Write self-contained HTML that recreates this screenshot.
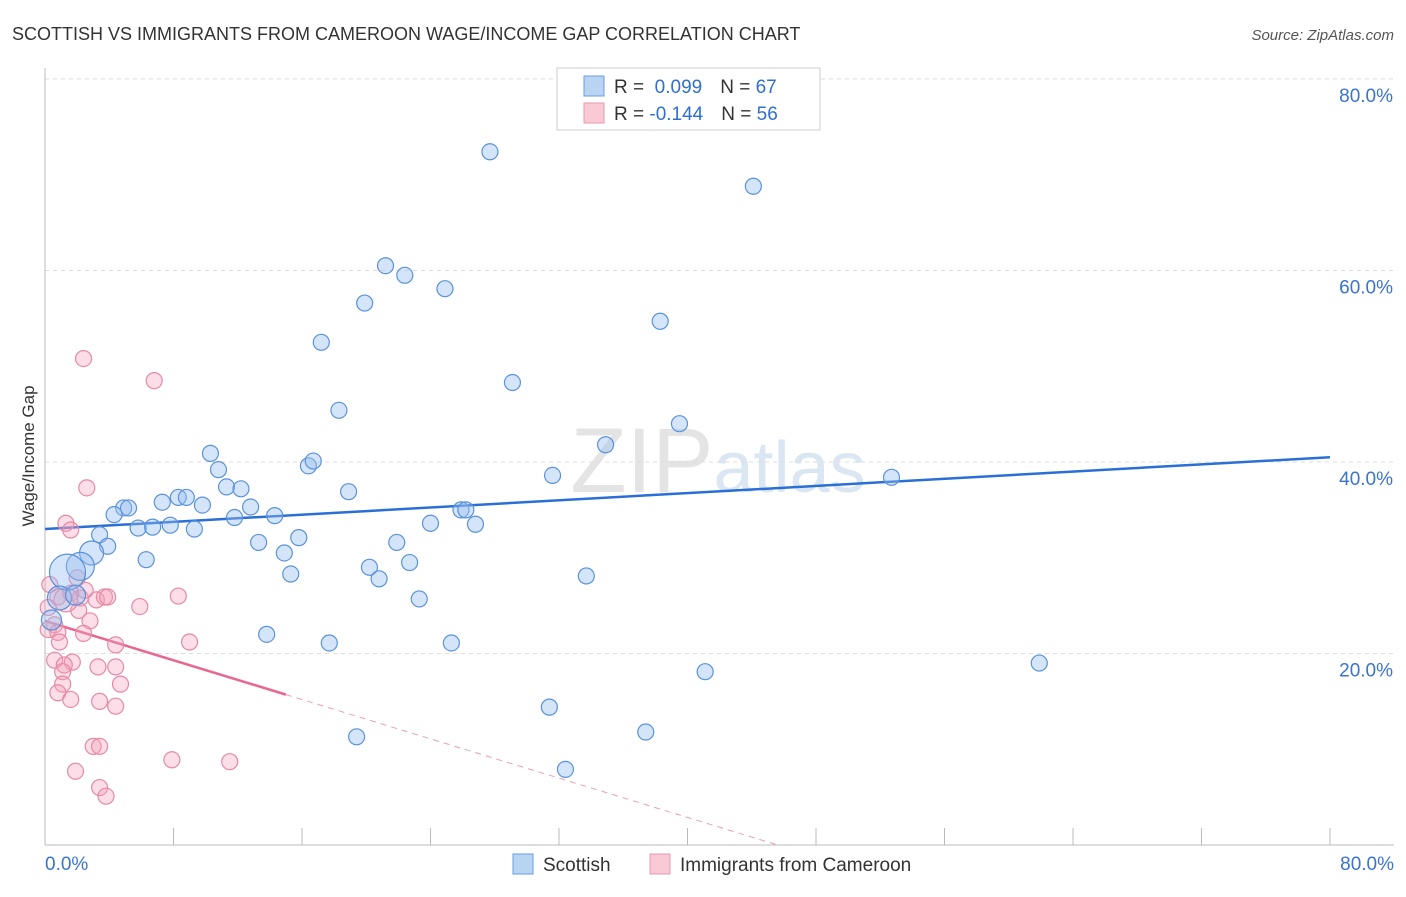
<!DOCTYPE html>
<html><head><meta charset="utf-8"><style>
body{margin:0;background:#fff;font-family:"Liberation Sans",sans-serif;}
svg text{font-family:"Liberation Sans",sans-serif;}
</style></head><body>
<svg id="chart" width="1406" height="892" viewBox="0 0 1406 892" xmlns="http://www.w3.org/2000/svg">
<text x="12" y="40" font-size="18" fill="#333">SCOTTISH VS IMMIGRANTS FROM CAMEROON WAGE/INCOME GAP CORRELATION CHART</text>
<text x="1394" y="40" font-size="15" fill="#555" text-anchor="end" font-style="italic">Source: ZipAtlas.com</text>
<text x="718" y="492" font-size="92" fill="#e4e4e4" text-anchor="middle" font-family="Liberation Serif">ZIP<tspan fill="#dbe6f3" font-family="Liberation Sans" font-size="72">atlas</tspan></text>
<g id="grid"></g>
<g id="axes"></g>
<g id="trend"></g>
<g id="pts"></g>
<text transform="translate(34,456) rotate(-90)" font-size="17" fill="#333" text-anchor="middle">Wage/Income Gap</text>
<g>
<rect x="557" y="68" width="263" height="62" fill="#fff" stroke="#ccc"/>
<rect x="584" y="76" width="20" height="20" fill="#b9d3f3" stroke="#6a9ee0"/>
<rect x="584" y="103" width="20" height="20" fill="#f9c9d6" stroke="#e79ab0"/>
<text x="614" y="93" font-size="19" fill="#333">R = <tspan fill="#2f6fd1">&#160;0.099</tspan><tspan dx="18">N = </tspan><tspan fill="#2f6fd1">67</tspan></text>
<text x="614" y="120" font-size="19" fill="#333">R = <tspan fill="#2f6fd1">-0.144</tspan><tspan dx="18">N = </tspan><tspan fill="#2f6fd1">56</tspan></text>
</g>
<g>
<rect x="513" y="854" width="20" height="20" fill="#b9d3f3" stroke="#6a9ee0"/>
<text x="543" y="871" font-size="19" fill="#333">Scottish</text>
<rect x="650" y="854" width="20" height="20" fill="#f9c9d6" stroke="#e79ab0"/>
<text x="680" y="871" font-size="19" fill="#333">Immigrants from Cameroon</text>
</g>
</svg>
<script>
const yTicks=[20,40,60,80];
const yTickLabels=["20.0%","40.0%","60.0%","80.0%"];
const xTicks=[0,8,16,24,32,40,48,56,64,72,80];
const blueX=[27.7,44.1,21.2,22.4,19.9,24.9,38.3,17.2,29.1,18.3,39.5,34.9,10.3,16.4,16.7,10.8,31.6,52.7,18.9,11.3,12.2,7.3,8.3,8.8,9.8,4.9,5.2,12.8,4.3,11.8,14.3,25.9,26.2,24.0,26.8,5.8,6.7,7.8,9.3,3.4,15.8,13.3,21.9,3.9,14.9,6.3,20.2,22.7,2.9,2.2,1.4,20.8,15.3,33.7,23.3,0.9,13.8,17.7,25.3,61.9,41.1,31.4,19.4,37.4,32.4,0.4,1.9];
const blueY=[72.4,68.8,60.5,59.5,56.6,58.1,54.7,52.5,48.3,45.4,44.0,41.8,40.9,39.6,40.1,39.2,38.6,38.4,36.9,37.4,37.2,35.8,36.3,36.3,35.5,35.2,35.2,35.3,34.5,34.2,34.4,35.0,35.0,33.6,33.5,33.1,33.2,33.4,33.0,32.4,32.1,31.6,31.6,31.2,30.5,29.8,29.0,29.5,30.5,29.1,28.5,27.8,28.3,28.1,25.7,25.8,22.0,21.1,21.1,19.0,18.1,14.4,11.3,11.8,7.9,23.5,26.1];
const blueSize=[8,8,8,8,8,8,8,8,8,8,8,8,8,8,8,8,8,8,8,8,8,8,8,8,8,8,8,8,8,8,8,8,8,8,8,8,8,8,8,8,8,8,8,8,8,8,8,8,12,14,18,8,8,8,8,12,8,8,8,8,8,8,8,8,8,10,10];
const pinkX=[2.4,6.8,2.6,1.3,1.6,2.0,0.3,0.8,1.6,2.2,2.5,3.2,3.7,3.9,8.3,5.9,2.1,0.2,0.6,0.2,2.8,0.8,2.4,0.9,9.0,4.4,0.6,1.7,1.2,3.3,4.4,1.1,1.1,4.7,0.8,1.6,3.4,4.4,3.0,3.4,7.9,11.5,1.9,3.4,3.8,1.3];
const pinkY=[50.8,48.5,37.3,33.6,32.9,27.9,27.2,25.9,26.3,25.8,26.6,25.6,25.9,25.9,26.0,24.9,24.5,24.8,23.0,22.5,23.4,22.2,22.1,21.2,21.2,20.9,19.3,19.1,18.8,18.6,18.6,18.1,16.8,16.8,15.9,15.2,15.0,14.5,10.3,10.3,8.9,8.7,7.7,6.0,5.1,25.6];
const blueTrend=[33.0,40.5];
const pinkTrend=[23.4,-0.513];
const X=v=>45+v*(1330-45)/80;
const Y=v=>845-v*(845-79)/80;
const NS="http://www.w3.org/2000/svg";
function mk(p,t,a){const e=document.createElementNS(NS,t);for(const k in a)e.setAttribute(k,a[k]);p.appendChild(e);return e;}
const grid=document.getElementById('grid'),axes=document.getElementById('axes'),trend=document.getElementById('trend'),pts=document.getElementById('pts');
yTicks.forEach((t,i)=>{
 const l=mk(grid,'line',{x1:45,x2:1394,y1:Y(t),y2:Y(t),stroke:'#ddd','stroke-dasharray':'4,4'});
 
 
 const tx=mk(axes,'text',{x:1393,y:Y(t)+23,'font-size':19,fill:'#3a74d0','text-anchor':'end'});
 tx.textContent=yTickLabels[i];
 
 
});
mk(axes,'line',{x1:45,x2:45,y1:68,y2:845,stroke:'#bbb'});
mk(axes,'line',{x1:45,x2:1394,y1:845,y2:845,stroke:'#bbb'});
xTicks.forEach(t=>{const l=mk(axes,'line',{x1:X(t),x2:X(t),y1:828,y2:845,stroke:'#bbb'});
 
 });
let a=mk(axes,'text',{x:45,y:870,'font-size':19,fill:'#3a74d0'});a.textContent='0.0%';


let b=mk(axes,'text',{x:1394,y:870,'font-size':19,fill:'#3a74d0','text-anchor':'end'});b.textContent='80.0%';


pinkX.forEach((x,i)=>{const c=mk(pts,'circle',{cx:X(x),cy:Y(pinkY[i]),r:i==45?12:8,fill:'rgba(244,160,185,0.35)',stroke:'#e889a6','stroke-width':1.2});
 
 });
blueX.forEach((x,i)=>{const c=mk(pts,'circle',{cx:X(x),cy:Y(blueY[i]),r:blueSize[i],fill:'rgba(150,190,240,0.4)',stroke:'#5a92dc','stroke-width':1.2});
 
 });
let bl=mk(trend,'line',{x1:X(0),y1:Y(blueTrend[0]),x2:X(80),y2:Y(blueTrend[1]),stroke:'#2a6fd6','stroke-width':2.5});


const pEnd=-pinkTrend[0]/pinkTrend[1];
let pl=mk(trend,'line',{x1:X(0),y1:Y(pinkTrend[0]),x2:X(15),y2:Y(pinkTrend[0]+15*pinkTrend[1]),stroke:'#e8668f','stroke-width':2.5});


let pd=mk(trend,'line',{x1:X(15),y1:Y(pinkTrend[0]+15*pinkTrend[1]),x2:X(pEnd),y2:Y(0),stroke:'#e8a0b5','stroke-width':1,'stroke-dasharray':'6,5'});


</script>
</body></html>
